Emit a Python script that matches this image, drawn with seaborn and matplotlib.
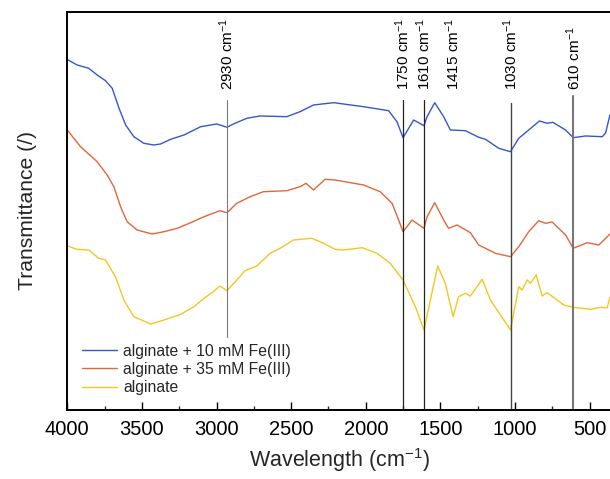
"""FTIR spectra of alginate films with and without Fe(III), with marked bands."""

import matplotlib

matplotlib.use("Agg")
import matplotlib.pyplot as plt
import matplotlib.transforms as mtransforms
import pandas as pd
import seaborn as sns

# wavenumbers (cm-1) and transmittance (arbitrary units)
blue_wn = [4000, 3934, 3856, 3800, 3744, 3699, 3654, 3609, 3554, 3487, 3420, 3375,
           3307, 3218, 3106, 2999, 2930, 2887, 2797, 2708, 2529, 2440, 2350, 2216,
           2015, 1847, 1791, 1750, 1679, 1610, 1589, 1538, 1478, 1433, 1332, 1243,
           1198, 1109, 1030, 975, 908, 836, 784, 747, 661, 610, 528, 415, 393, 364]
blue_t = [350.5, 345, 341.7, 335, 329.3, 321.7, 302, 285, 273.3, 266.7, 265, 266,
          270.7, 275, 283.3, 286, 282.7, 286, 291.7, 294, 293.3, 298.3, 305, 307.3,
          303.3, 299.3, 288.3, 272.3, 290, 284.3, 293.3, 307.3, 293.3, 280, 279.3, 272.7,
          270.7, 261.7, 258.3, 271.7, 280, 289, 286.7, 287.7, 280, 272.3, 274, 273.3, 277, 295]

red_wn = [4000, 3911, 3800, 3733, 3688, 3643, 3599, 3532, 3431, 3352, 3263, 3173,
          3084, 2977, 2930, 2864, 2775, 2686, 2529, 2440, 2400, 2350, 2272, 2205,
          2015, 1903, 1824, 1780, 1750, 1690, 1610, 1589, 1538, 1478, 1445, 1388,
          1299, 1243, 1131, 1030, 975, 908, 841, 796, 751, 661, 610, 516, 438, 364]
red_t = [280, 263.3, 248.3, 235, 223.3, 203.3, 188.3, 180, 176, 178.3, 181.7, 187.3,
         193.3, 199.3, 197.3, 206.7, 213.3, 218.3, 219.3, 223.3, 226.7, 220, 230.7, 230,
         225, 218.3, 206.7, 190, 178.3, 190, 181.7, 193.3, 207.3, 190, 181.7, 185,
         177.3, 165, 156.7, 153.3, 163.3, 178.3, 189.3, 186.7, 188, 175, 161.7, 167.3, 165, 176]

yellow_wn = [4000, 3934, 3856, 3789, 3744, 3677, 3621, 3554, 3442, 3352, 3240, 3151,
             3084, 3022, 2977, 2930, 2864, 2809, 2730, 2641, 2574, 2485, 2361, 2283,
             2205, 2149, 2025, 1925, 1836, 1750, 1668, 1610, 1567, 1518, 1467, 1415,
             1378, 1332, 1299, 1220, 1165, 1075, 1030, 975, 952, 918, 896, 858, 818,
             784, 673, 610, 493, 426, 382, 364]
yellow_t = [164, 160.7, 160, 151.7, 150, 133.3, 110, 93.3, 86, 90, 95.7, 103.3,
            111.7, 118.3, 124, 119.3, 130, 139.3, 144, 156.7, 161.7, 170, 171.7, 166.7,
            160.7, 160, 162.3, 156.7, 146.7, 130, 103.3, 80, 110, 144, 126.7, 93.3,
            113.3, 116.7, 114, 130.7, 110, 90, 80, 123.3, 120, 130, 126.7, 135, 114,
            117.3, 105, 102.7, 100.7, 102.7, 102.3, 112.7]

series_names = ["alginate + 10 mM Fe(III)", "alginate + 35 mM Fe(III)", "alginate"]
series_colors = ["#3558c8", "#e0673a", "#f2c623"]

band_positions = [2930, 1750, 1610, 1415, 1030, 610]
band_labels = ["2930", "1750", "1610", "1415", "1030", "610"]


def main() -> None:
    sns.set_theme(style="ticks")
    plt.rcParams["font.family"] = ["Liberation Sans", "DejaVu Sans"]
    plt.rcParams["mathtext.fontset"] = "custom"
    plt.rcParams["mathtext.rm"] = "Liberation Sans"
    plt.rcParams["mathtext.it"] = "Liberation Sans:italic"

    df = pd.concat([
        pd.DataFrame({"wn": blue_wn, "t": blue_t, "sample": series_names[0]}),
        pd.DataFrame({"wn": red_wn, "t": red_t, "sample": series_names[1]}),
        pd.DataFrame({"wn": yellow_wn, "t": yellow_t, "sample": series_names[2]}),
    ])

    fig = plt.figure(figsize=(6.10, 4.79), dpi=100)
    ax = fig.add_axes([0.1103, 0.144, 0.893, 0.831])

    sns.lineplot(data=df, x="wn", y="t", hue="sample", hue_order=series_names,
                 palette=series_colors, sort=False, estimator=None, lw=1.0, ax=ax)

    ax.set_xlim(4000, 350)
    ax.set_ylim(0, 398)

    trans = mtransforms.blended_transform_factory(ax.transData, ax.transAxes)
    line_style = {
        2930: dict(ymin=0.183, ymax=0.779, color="#7a7a7a", lw=0.8),
        1750: dict(ymin=0, ymax=0.779, color="#222222", lw=0.9),
        1610: dict(ymin=0, ymax=0.779, color="#222222", lw=0.9),
        1030: dict(ymin=0, ymax=0.771, color="#444444", lw=1.0),
        610: dict(ymin=0, ymax=0.79, color="#777777", lw=1.5),
    }
    for wn, lab in zip(band_positions, band_labels):
        if wn in line_style:
            ax.axvline(wn, **line_style[wn])
        ax.text(wn, 0.803, lab + r" cm$^{\mathrm{-1}}$", transform=trans, rotation=90,
                ha="center", va="bottom", fontsize=11, color="black")

    for side in ["left", "bottom", "top"]:
        ax.spines[side].set_visible(True)
        ax.spines[side].set_color("black")
        ax.spines[side].set_linewidth(1.4)
    ax.spines["right"].set_visible(False)

    ax.set_xticks([4000, 3500, 3000, 2500, 2000, 1500, 1000, 500])
    ax.set_xticks([3750, 3250, 2750, 2250, 1750, 1250, 750], minor=True)
    ax.tick_params(axis="x", which="major", direction="in", length=6, width=1,
                   labelsize=14.5, pad=7, colors="black")
    ax.tick_params(axis="x", which="minor", direction="in", length=3, width=1)
    ax.set_yticks([])

    ax.set_xlabel(r"Wavelength (cm$^{\mathrm{-1}}$)", fontsize=15.5, labelpad=5)
    ax.set_ylabel("Transmittance (/)", fontsize=15.2, labelpad=22)

    ax.legend(loc="lower left", bbox_to_anchor=(0.007, 0.01), frameon=False,
              fontsize=11.3, handlelength=2.2, handletextpad=0.4, labelspacing=0.2,
              borderaxespad=0.3)

    fig.savefig("out.png", dpi=100)
    plt.close(fig)


if __name__ == "__main__":
    main()
